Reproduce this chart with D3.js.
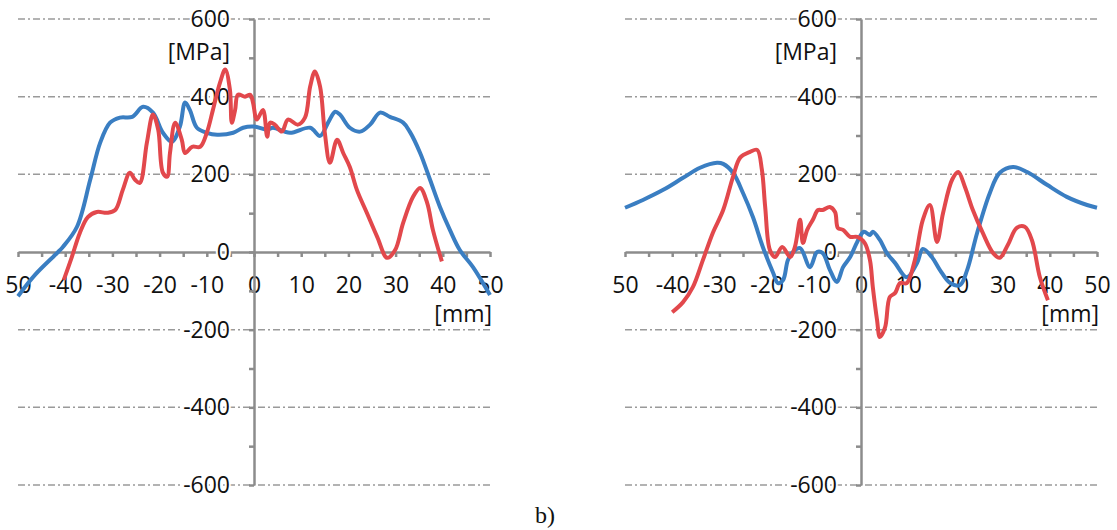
<!DOCTYPE html>
<html>
<head>
<meta charset="utf-8">
<script src="https://cdn.jsdelivr.net/npm/d3@7"></script>
<style>
  body { margin: 0; background: #fff; }
  svg text { font-family: "Open Sans", sans-serif; }
</style>
</head>
<body>
<div id="chart"></div>
<script>
// readings: position [mm] and stress [MPa]
var blueLeftX = [-50, -46.4, -41.5, -40.5, -37.5, -34.7, -32.6, -30.5, -28.4, -25.8, -23.5, -21.4, -19.3, -17.4, -15.7, -14.6, -13.6, -12.1, -10, -7.8, -4.4, -2.3, 0, 2.8, 4, 7.6, 11.9, 14, 15.7, 17.2, 18.2, 20.3, 22.5, 24.6, 26.7, 28.8, 31.6, 33, 35.2, 37.3, 39.4, 41.5, 43.6, 46.4, 50];
var blueLeftY = [-114, -59, 0, 13, 65, 186, 281, 333, 346, 348, 374, 359, 307, 284, 323, 385, 366, 320, 307, 302, 307, 320, 323, 315, 320, 307, 320, 299, 333, 361, 354, 320, 310, 328, 359, 348, 333, 310, 255, 186, 116, 57, 5, -39, -111];

var redLeftX = [-40.3, -38.6, -36.9, -35.2, -33.3, -31.1, -29.4, -27.8, -26.3, -25.2, -24.2, -22.7, -21.4, -20.3, -19.3, -18.4, -17.8, -16.7, -15.3, -14.6, -13.1, -11.4, -10, -8.7, -7.2, -6.1, -5.1, -4.7, -4, -3.4, -1.9, -0.8, -0.2, 0.6, 1.9, 2.8, 3.4, 4.4, 5.9, 7.2, 9.3, 10.8, 11.9, 12.9, 14, 15, 16.1, 17.6, 18.9, 20.3, 21.8, 23.9, 26.1, 28.2, 29.9, 31.6, 33.7, 35.2, 36.7, 37.9, 39.8];
var redLeftY = [-72, -13, 49, 90, 103, 101, 108, 160, 204, 186, 178, 281, 354, 315, 204, 194, 255, 333, 289, 255, 271, 271, 307, 366, 436, 470, 418, 333, 366, 405, 400, 405, 384, 341, 366, 297, 333, 328, 310, 341, 328, 346, 426, 465, 426, 307, 230, 289, 255, 219, 160, 101, 39, -15, 5, 75, 142, 165, 126, 57, -24];

var blueRightX = [-50, -46.2, -41.9, -37.7, -34.1, -30.5, -29.2, -27.1, -25, -22.9, -20.8, -18.6, -17.6, -16.5, -15.5, -14.4, -12.9, -10.8, -9.3, -8.1, -6.6, -5.1, -3.8, -2.3, -0.8, 0.6, 1.9, 2.5, 4, 5.5, 7.2, 9.7, 11.9, 13.1, 15, 16.7, 18.9, 21, 22.5, 24.6, 27.3, 29.4, 32.2, 35.2, 39.4, 43.6, 47.9, 50];
var blueRightY = [114, 134, 160, 191, 217, 230, 227, 204, 152, 90, 13, -54, -80, -72, -21, 0, 10, -39, 0, -3, -46, -77, -39, -13, 26, 52, 44, 52, 31, -3, -28, -65, -28, 8, -13, -46, -80, -85, -46, 49, 152, 204, 219, 206, 173, 142, 121, 114];

var redRightX = [-40, -37.7, -35.6, -33.5, -31.4, -29.2, -27.1, -25.6, -23.5, -22, -21, -20.3, -19.3, -18.2, -16.7, -15, -14, -12.9, -12.3, -11.4, -10.2, -9.1, -8.1, -6.6, -5.5, -4.9, -3.8, -2.3, -0.8, 0.8, 1.9, 2.5, 3.4, 4, 5.1, 6.1, 7.2, 8.3, 9.7, 11.4, 13.1, 14.6, 16.1, 17.4, 19.3, 20.6, 22, 23.7, 25.8, 28, 29.4, 31.1, 33, 34.7, 36.2, 37.9, 39.6];
var redRightY = [-155, -129, -90, -21, 49, 108, 194, 243, 258, 263, 212, 116, 5, -13, 13, -13, 13, 83, 23, 57, 83, 108, 108, 116, 103, 62, 57, 39, 39, 23, -21, -90, -175, -219, -194, -116, -106, -80, -80, -21, 83, 121, 26, 101, 186, 206, 168, 108, 49, -3, -15, 18, 62, 65, 31, -65, -124];

var xTickValues = [-50, -40, -30, -20, -10, 0, 10, 20, 30, 40, 50];
var xTickLabels = ["50", "-40", "-30", "-20", "-10", "0", "10", "20", "30", "40", "50"];
var yTickValues = [600, 400, 200, 0, -200, -400, -600];
var yTickLabels = ["600", "400", "200", "0", "-200", "-400", "-600"];
var gridValues = [600, 400, 200, -200, -400, -600];

var blue = "#3a7ec2", red = "#e2484c", axisCol = "#8c8c8c";

var svg = d3.select("#chart").append("svg")
    .attr("width", 1117)
    .attr("height", 530);

var y = d3.scaleLinear().domain([-600, 600]).range([485, 19]);

function zip(xs, ys) {
  return xs.map(function(d, i) { return [d, ys[i]]; });
}

function panel(x0, x1, blueX, blueY, redX, redY) {
  var x = d3.scaleLinear().domain([-50, 50]).range([x0, x1]);
  var g = svg.append("g");

  // dash-dot grid
  g.selectAll(".grid")
      .data(gridValues)
    .enter().append("line")
      .attr("x1", x(-50)).attr("x2", x(50))
      .attr("y1", function(d) { return y(d); })
      .attr("y2", function(d) { return y(d); })
      .attr("stroke", "#9a9a9a")
      .attr("stroke-width", 1.5)
      .attr("stroke-dasharray", "7,3,2,3");

  // x axis (ticks every 5 mm, labels every 10)
  var xAxis = g.append("g")
      .attr("transform", "translate(0," + y(0) + ")")
      .call(d3.axisBottom(x).tickValues(d3.range(-50, 51, 5))
        .tickSize(5).tickSizeOuter(0).tickPadding(20)
        .tickFormat(function(d) {
          var i = xTickValues.indexOf(d);
          return i < 0 ? "" : xTickLabels[i];
        }));

  // y axis (ticks every 100, labels every 200)
  var yAxis = g.append("g")
      .attr("transform", "translate(" + x(0) + ",0)")
      .call(d3.axisLeft(y).tickValues(d3.range(-600, 601, 100))
        .tickSize(5).tickSizeOuter(0).tickPadding(19)
        .tickFormat(function(d) {
          var i = yTickValues.indexOf(d);
          return i < 0 ? "" : yTickLabels[i];
        }));

  [xAxis, yAxis].forEach(function(a) {
    a.selectAll("path, line").attr("stroke", axisCol).attr("stroke-width", 2.5);
    a.selectAll("text")
        .attr("fill", "#111")
        .style("font-size", "23px")
        .style("font-family", "'Open Sans', sans-serif");
  });
  // y labels sit on the grid lines, keep them readable
  yAxis.selectAll("text")
      .attr("stroke", "#fff").attr("stroke-width", 4)
      .attr("paint-order", "stroke");

  var line = d3.line()
      .x(function(d) { return x(d[0]); })
      .y(function(d) { return y(d[1]); })
      .curve(d3.curveCatmullRom.alpha(0.5));

  g.append("path")
      .datum(zip(blueX, blueY))
      .attr("fill", "none")
      .attr("stroke", blue)
      .attr("stroke-width", 4)
      .attr("stroke-linejoin", "round")
      .attr("d", line);

  g.append("path")
      .datum(zip(redX, redY))
      .attr("fill", "none")
      .attr("stroke", red)
      .attr("stroke-width", 4)
      .attr("stroke-linejoin", "round")
      .attr("d", line);

  g.append("text")
      .attr("x", x(0) - 24).attr("y", 60)
      .attr("text-anchor", "end")
      .style("font-size", "23px")
      .attr("fill", "#111")
      .text("[MPa]");

  g.append("text")
      .attr("x", x(50) + 2).attr("y", 322)
      .attr("text-anchor", "end")
      .style("font-size", "23px")
      .attr("fill", "#111")
      .text("[mm]");
}

panel(18, 490, blueLeftX, blueLeftY, redLeftX, redLeftY);
panel(625, 1097, blueRightX, blueRightY, redRightX, redRightY);

svg.append("text")
    .attr("x", 545).attr("y", 523)
    .attr("text-anchor", "middle")
    .style("font-family", "'Liberation Serif', 'Times New Roman', serif")
    .style("font-size", "24px")
    .attr("fill", "#111")
    .text("b)");
</script>
</body>
</html>
